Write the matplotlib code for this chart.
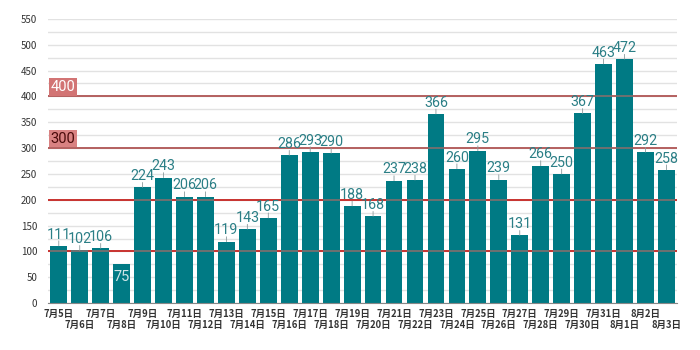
import numpy as np
import matplotlib.pyplot as plt

plt.rcParams['font.family'] = ['Noto Sans CJK JP', 'DejaVu Sans']

# daily counts, 7/5 .. 8/3
dates = [f"7月{d}日" for d in range(5, 32)] + [f"8月{d}日" for d in range(1, 4)]
counts = [111, 102, 106, 75, 224, 243, 206, 206, 119, 143, 165, 286, 293, 290,
          188, 168, 237, 238, 366, 260, 295, 239, 131, 266, 250, 367, 463, 472,
          292, 258]
red_levels = [100, 200]
marked_levels = [300, 400]

bar_color = '#007a84'
label_color = '#2b7f86'

fig = plt.figure(figsize=(7, 3.5), dpi=100)
ax = fig.add_axes([0.069, 0.134, 0.898, 0.812])

x = np.arange(len(counts))
width = 0.8
bars = ax.bar(x, counts, width=width, color=bar_color, zorder=3)

ax.set_xlim(-0.5, len(counts) - 0.5)
ax.set_ylim(0, 550)

# light grid every 25
ax.set_yticks(np.arange(0, 551, 50))
ax.set_yticks(np.arange(0, 551, 25), minor=True)
ax.grid(axis='y', which='both', color='#e2e2e2', linewidth=1, zorder=0)
ax.tick_params(axis='y', which='both', length=0, labelsize=7, labelcolor='#333333', pad=8)

# staggered date labels: even days on the major ticks, odd days one row lower
ax.set_xticks(x[::2])
ax.set_xticklabels(dates[::2], fontweight='bold')
ax.set_xticks(x[1::2], minor=True)
ax.set_xticklabels(dates[1::2], minor=True, fontweight='bold')
ax.tick_params(axis='x', which='major', length=0, labelsize=6.8, labelcolor='#333333', pad=4)
ax.tick_params(axis='x', which='minor', length=0, labelsize=6.8, labelcolor='#333333', pad=12.5)

for s in ['top', 'right', 'left']:
    ax.spines[s].set_visible(False)
ax.spines['bottom'].set_color('#888888')
ax.spines['bottom'].set_zorder(4)

# reference lines: coloured over the background, grey where they cross bars
def level_line(y, color):
    ax.axhline(y, color=color, linewidth=1.4, zorder=2)
    for b in bars:
        if b.get_height() > y:
            ax.hlines(y, b.get_x(), b.get_x() + b.get_width(),
                      color='#707070', linewidth=1.4, zorder=4)

for lv in red_levels:
    level_line(lv, '#c8322f')
for lv in marked_levels:
    level_line(lv, '#b4605f')

# boxed level labels at the left edge
box_styles = {400: ('#d27474', 'white'), 300: ('#d98282', '#4a0a0a')}
for lv in marked_levels:
    face, txt = box_styles[lv]
    ax.annotate(str(lv), xy=(0, lv), xycoords=('axes fraction', 'data'),
                xytext=(1.5, 1.8), textcoords='offset points', ha='left', va='bottom',
                fontsize=10.5, color=txt, family=['Roboto', 'DejaVu Sans'], zorder=6,
                bbox=dict(boxstyle='square,pad=0.12', facecolor=face, edgecolor='none'))

# value labels
for b, v in zip(bars, counts):
    cx = b.get_x() + b.get_width() / 2
    if v < 90:
        ax.annotate(str(v), xy=(cx, v), xytext=(0, -4), textcoords='offset points',
                    ha='center', va='top', fontsize=10.5, color='#cfe6e8',
                    family=['Roboto', 'DejaVu Sans'], zorder=5)
        continue
    ax.annotate('', xy=(cx, v), xytext=(0, 3.5), textcoords='offset points',
                arrowprops=dict(arrowstyle='-', color='#8a9a9c', lw=0.6,
                                shrinkA=0, shrinkB=0), zorder=5)
    ax.annotate(str(v), xy=(cx, v), xytext=(0, 3), textcoords='offset points',
                ha='center', va='bottom', fontsize=10.3, color=label_color,
                family=['Roboto', 'DejaVu Sans'], zorder=5)

fig.savefig('out.png', dpi=100, facecolor='white')
